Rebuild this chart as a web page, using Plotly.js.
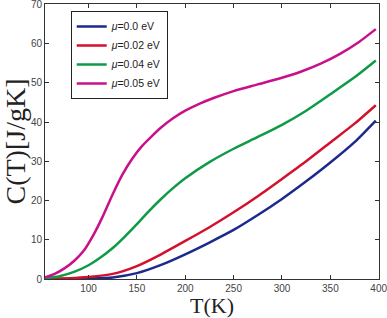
<!DOCTYPE html>
<html><head><meta charset="utf-8">
<script src="https://cdn.plot.ly/plotly-3.0.1.min.js"></script>
<style>html,body{margin:0;padding:0;background:#fff}#c{width:387px;height:318px}</style>
</head><body><div id="c"></div>
<script>
const T_mu005 = [55, 65, 75, 85, 95, 105, 115, 125, 135, 145, 155, 165, 175, 187, 200, 215, 230, 250, 275, 300, 320, 340, 360, 380, 397];
const C_mu005 = [0.4, 1.3, 2.7, 4.6, 7.2, 11.2, 16.1, 21.6, 26.6, 30.6, 33.8, 36.3, 38.6, 40.9, 42.9, 44.7, 46.2, 47.9, 49.6, 51.3, 52.9, 54.9, 57.4, 60.5, 63.7];
const T_mu004 = [55, 70, 85, 100, 112, 125, 137, 150, 162, 175, 187, 200, 225, 250, 275, 300, 325, 350, 375, 397];
const C_mu004 = [0.2, 0.7, 1.8, 3.5, 5.4, 7.9, 10.7, 14.0, 17.2, 20.4, 23.1, 25.7, 29.8, 33.2, 36.2, 39.3, 42.9, 47.1, 51.4, 55.7];
const T_mu002 = [55, 80, 100, 125, 150, 175, 200, 225, 250, 275, 300, 325, 350, 375, 397];
const C_mu002 = [0.05, 0.2, 0.5, 1.3, 3.3, 6.3, 9.7, 13.2, 17.0, 21.1, 25.5, 30.0, 34.8, 39.6, 44.3];
const T_mu000 = [55, 80, 100, 125, 150, 175, 200, 225, 250, 275, 300, 325, 350, 375, 397];
const C_mu000 = [0.0, 0.02, 0.1, 0.4, 1.5, 3.6, 6.3, 9.3, 12.5, 16.3, 20.4, 24.9, 29.7, 34.9, 40.4];
const names = ['<i>μ</i>=0.0 eV', '<i>μ</i>=0.02 eV', '<i>μ</i>=0.04 eV', '<i>μ</i>=0.05 eV'];
const colors = ['#1c2a8c', '#d5102c', '#0f9a48', '#c8108a'];
const xs = [T_mu000, T_mu002, T_mu004, T_mu005];
const ys = [C_mu000, C_mu002, C_mu004, C_mu005];
const traces = xs.map((x, i) => ({
  x: x, y: ys[i], name: names[i], type: 'scatter', mode: 'lines',
  line: {color: colors[i], width: 2.5, shape: 'spline', smoothing: 0.7}
}));
const axisCommon = {
  showline: true, linecolor: '#333', linewidth: 1, mirror: 'allticks',
  ticks: 'inside', ticklen: 4, tickcolor: '#333', showgrid: false, zeroline: false,
  ticklabeloverflow: 'allow',
  tickfont: {family: 'Liberation Sans, Arial, sans-serif', size: 10, color: '#444'}
};
Plotly.newPlot('c', traces, {
  width: 387, height: 318,
  margin: {l: 45, r: 8, t: 4, b: 39},
  paper_bgcolor: '#fff', plot_bgcolor: '#fff',
  xaxis: Object.assign({}, axisCommon, {range: [55, 400.3], tickvals: [100,150,200,250,300,350,400],
    title: {text: 'T(K)', standoff: 3, font: {family: 'Liberation Serif, DejaVu Serif, serif', size: 22, color: '#222'}}}),
  yaxis: Object.assign({}, axisCommon, {range: [0, 70.1], tickvals: [0,10,20,30,40,50,60,70],
    title: {text: 'C(T)[J/gK]', standoff: 2, font: {family: 'Liberation Serif, DejaVu Serif, serif', size: 28, color: '#222'}}}),
  legend: {x: 0.077, y: 0.975, xanchor: 'left', yanchor: 'top', bgcolor: '#fff',
    bordercolor: '#222', borderwidth: 1, tracegroupgap: 0, itemwidth: 30,
    font: {family: 'Liberation Sans, Arial, sans-serif', size: 10.5, color: '#222'}},
  showlegend: true
}, {displayModeBar: false, staticPlot: true});
</script></body></html>
